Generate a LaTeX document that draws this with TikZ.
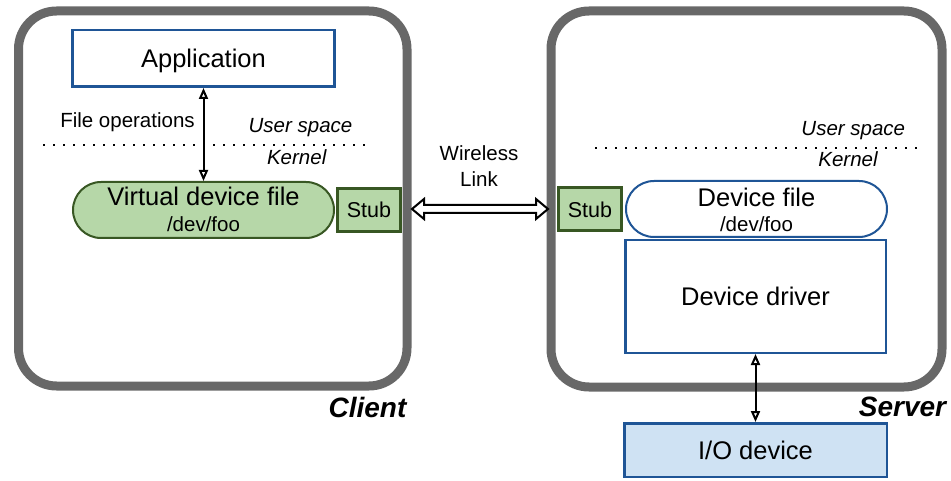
\documentclass[tikz,border=0pt]{standalone}
\usepackage{fontspec}
\setmainfont{Liberation Sans}
\usetikzlibrary{arrows.meta,shapes.misc,calc}

\definecolor{framegray}{RGB}{104,104,104}
\definecolor{boxblue}{RGB}{31,85,150}
\definecolor{stubfill}{RGB}{182,215,168}
\definecolor{stubedge}{RGB}{56,87,35}
\definecolor{iofill}{RGB}{207,226,243}

\newcommand{\bigtxt}{\fontsize{25.5}{26}\selectfont}
\newcommand{\midtxt}{\fontsize{20.5}{24}\selectfont}

\tikzset{
  frame/.style={draw=framegray, line width=9pt, rounded corners=38pt, inner sep=0pt},
  bluebox/.style={draw=boxblue, line width=2.5pt, fill=white, inner sep=0pt,
    font=\bigtxt, text depth=0pt},
  filebox/.style={rounded rectangle, line width=2pt, inner sep=0pt,
    minimum width=261pt, minimum height=56pt},
  stubbox/.style={draw=stubedge, fill=stubfill, line width=3pt, inner sep=0pt,
    minimum width=63pt, minimum height=43pt,
    font=\fontsize{21.5}{24}\selectfont, text depth=0pt},
  tag/.style={anchor=base, inner sep=0pt, font=\midtxt},
  bigtag/.style={anchor=base, inner sep=0pt, font=\bigtxt},
  sidetag/.style={anchor=base, inner sep=0pt, font=\fontsize{28}{30}\selectfont\bfseries\itshape},
  spaceline/.style={line width=2pt, dash pattern=on 2pt off 8pt},
  optip/.tip={Triangle[open, length=11pt, width=9pt, line width=2pt]},
  fileop/.style={line width=2pt, optip-optip},
  linkarrow/.style={draw=black, line width=2pt, line join=miter, fill=white}
}

\begin{document}
\begin{tikzpicture}[x=1pt, y=-1pt]
  \useasboundingbox (0,0) rectangle (951,481);

  % host frames
  \node[frame, minimum width=388.5pt, minimum height=375pt] (client) at (212.75,198.5) {};
  \node[frame, minimum width=391pt, minimum height=376pt] (server) at (746.5,199) {};

  % client side
  \node[bluebox, minimum width=262pt, minimum height=56.5pt] (app) at (203.5,58.5) {Application};
  \node[filebox, draw=stubedge, fill=stubfill] (vdf) at (203.5,210) {};
  \node[bigtag] (vdfname) at ($(vdf.center)+(0,-4)$) {Virtual device file};
  \node[tag] (vdfpath) at ($(vdf.center)+(0,22)$) {/dev/foo};
  \node[stubbox] (stubL) at (369,210) {Stub};

  \draw[fileop] (app.south) -- (vdf.north);

  \node[tag] (fops) at (127.5,128) {File operations};
  \node[tag, font=\midtxt\itshape] (usrL) at (300.5,133) {User space};
  \node[tag, font=\midtxt\itshape] (kerL) at (296.7,165) {Kernel};
  \coordinate (dlA) at (43,145);
  \coordinate (dlB) at (367,145);
  \draw[spaceline] (dlA) -- (dlB);

  % server side
  \node[stubbox] (stubR) at (590,209.5) {Stub};
  \node[filebox, draw=boxblue, fill=white] (df) at (756.5,209) {};
  \node[bigtag] (dfname) at ($(df.center)+(0,-2)$) {Device file};
  \node[tag] (dfpath) at ($(df.center)+(0,23)$) {/dev/foo};
  \node[bluebox, minimum width=260.5pt, minimum height=112.5pt] (drv) at (755.5,296.5) {Device driver};
  \node[bluebox, fill=iofill, minimum width=262.5pt, minimum height=53.5pt] (io) at (755.5,450) {I/O device};

  \draw[fileop] (drv.south) -- (io.north);

  \node[tag, font=\midtxt\itshape] (usrR) at (853.3,136) {User space};
  \node[tag, font=\midtxt\itshape] (kerR) at (848,166.5) {Kernel};
  \coordinate (drA) at (595,148);
  \coordinate (drB) at (918,148);
  \draw[spaceline] (drA) -- (drB);

  % wireless link between the two stubs
  \coordinate (wl) at ($(stubL.east)+(10,-1)$);
  \coordinate (wr) at ($(stubR.west)+(-9,-0.5)$);
  \draw[linkarrow] (wl) -- ($(wl)+(12,10)$) -- ($(wl)+(12,4)$) -- ($(wr)+(-12,4)$)
    -- ($(wr)+(-12,10)$) -- (wr) -- ($(wr)+(-12,-10)$) -- ($(wr)+(-12,-4)$)
    -- ($(wl)+(12,-4)$) -- ($(wl)+(12,-10)$) -- cycle;
  \node[tag] (wlss) at (479,161) {Wireless};
  \node[tag] (link) at (479,187) {Link};

  % host names
  \node[sidetag] (cname) at (367.5,417) {Client};
  \node[sidetag] (sname) at (902.5,416.7) {Server};
\end{tikzpicture}
\end{document}
